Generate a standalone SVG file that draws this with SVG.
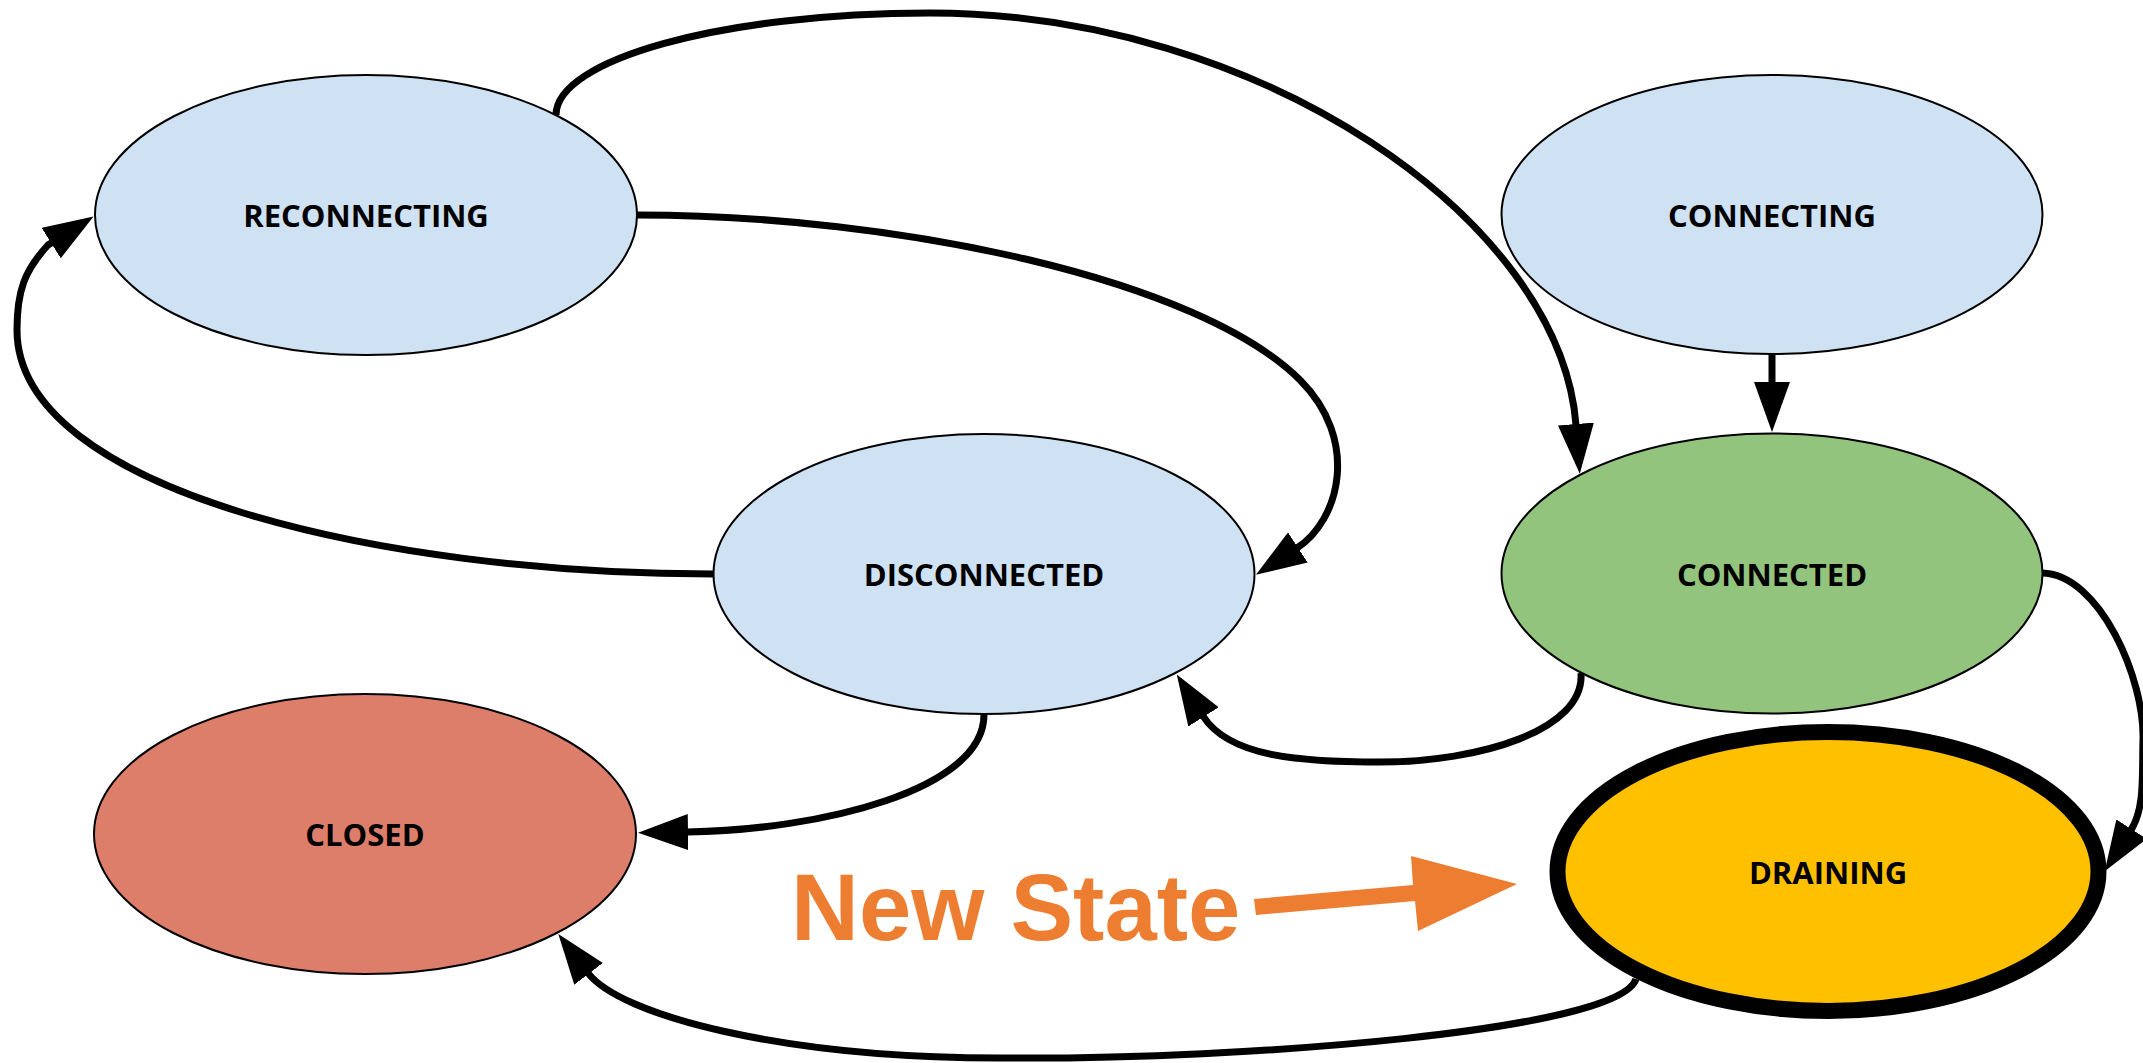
<svg xmlns="http://www.w3.org/2000/svg" width="2143" height="1063" viewBox="0 0 2143 1063">
  <style>
    .node { stroke: #000000; stroke-width: 2; }
    .blue { fill: #CFE2F3; }
    .green { fill: #93C47D; }
    .red { fill: #DD7E6B; }
    .yellow { fill: #FFC000; stroke-width: 16; }
    .label { font-family: "Open Sans", "Noto Sans", "DejaVu Sans", sans-serif; font-weight: bold; font-size: 31px; fill: #000000; text-anchor: middle; }
    .edge { fill: none; stroke: #000000; stroke-width: 7; marker-end: url(#arrow); }
    .note { font-family: "Liberation Sans", Arial, sans-serif; font-weight: bold; font-size: 94px; fill: #ED7D31; }
  </style>
  <defs>
    <marker id="arrow" viewBox="0 0 50 36" refX="1" refY="18" markerWidth="50" markerHeight="36" markerUnits="userSpaceOnUse" orient="auto">
      <path d="M0,0 L50,18 L0,36 z" fill="#000000"/>
    </marker>
  </defs>
  <rect x="0" y="0" width="2143" height="1063" fill="#FFFFFF"/>

  <g id="connectors">
    <path class="edge" d="M556,115 C556,60 720,13 930,13 C1260,13 1560,220 1576,425"/>
    <path class="edge" d="M637,215 C900,215 1200,280 1300,380 C1360,440 1340,520 1297,548"/>
    <path class="edge" d="M713,574 C380,574 17,490 17,330 C17,290 25,270 48,245 L52,242.5"/>
    <path class="edge" d="M1772,354 L1772,383"/>
    <path class="edge" d="M1581,673 C1585,730 1480,762 1380,762 C1300,762 1229,757 1203,716"/>
    <path class="edge" d="M984,714 C985,790 820,830 687,832"/>
    <path class="edge" d="M2042,573 C2100,574 2145,680 2143,740 C2142,775 2145,808 2131,830"/>
    <path class="edge" d="M1636,979 C1620,1030 1250,1060 1000,1058 C780,1058 620,1015 588,973"/>
  </g>

  <g id="node-reconnecting">
    <ellipse class="node blue" cx="366" cy="215" rx="271" ry="140"/>
    <text class="label" x="366" y="227">RECONNECTING</text>
  </g>
  <g id="node-connecting">
    <ellipse class="node blue" cx="1772" cy="214.5" rx="270.5" ry="139.5"/>
    <text class="label" x="1772" y="226.5">CONNECTING</text>
  </g>
  <g id="node-disconnected">
    <ellipse class="node blue" cx="984" cy="574" rx="270.5" ry="140"/>
    <text class="label" x="984" y="586">DISCONNECTED</text>
  </g>
  <g id="node-connected">
    <ellipse class="node green" cx="1772" cy="573.5" rx="270.5" ry="140"/>
    <text class="label" x="1772" y="585.5">CONNECTED</text>
  </g>
  <g id="node-closed">
    <ellipse class="node red" cx="365" cy="834" rx="271" ry="140"/>
    <text class="label" x="365" y="846">CLOSED</text>
  </g>
  <g id="node-draining">
    <ellipse class="node yellow" cx="1828" cy="871.5" rx="270.5" ry="139.5"/>
    <text class="label" x="1828" y="884">DRAINING</text>
  </g>

  <g id="annotation-new-state">
    <text class="note" x="791" y="940">New State</text>
    <polygon points="1254,899 1413,885 1411,856 1517,884 1418,931 1415,901 1256,915" fill="#ED7D31"/>
  </g>
</svg>
